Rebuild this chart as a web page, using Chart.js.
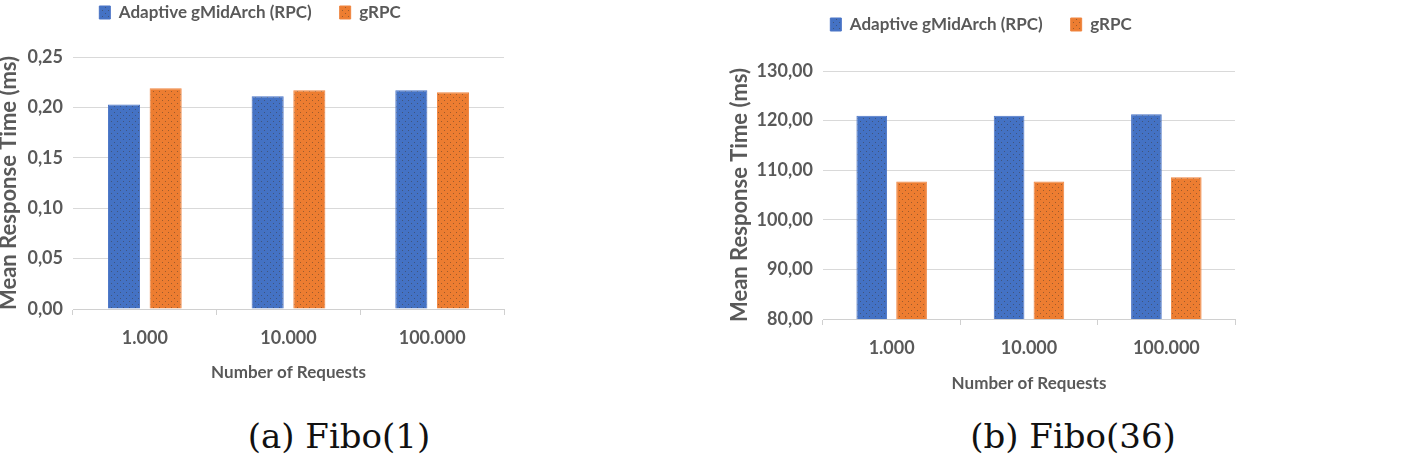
<!DOCTYPE html>
<html>
<head>
<meta charset="utf-8">
<script src="https://cdn.jsdelivr.net/npm/chart.js@4.4.1/dist/chart.umd.min.js"></script>
<style>
    html, body { margin: 0; padding: 0; background: #fff; }
    body { width: 1418px; height: 458px; position: relative; overflow: hidden; }
    .box { position: absolute; }
    .caption {
        position: absolute; top: 416px; font-family: "DejaVu Serif", "Liberation Serif", serif;
        font-size: 34px; color: #111; white-space: nowrap; transform: translateX(-50%);
    }
</style>
</head>
<body>
<div class="box" style="left:-4px;top:-24px;width:524px;height:411px"><canvas id="chartA"></canvas></div>
<div class="box" style="left:727px;top:-12px;width:691px;height:410px"><canvas id="chartB"></canvas></div>
<div class="caption" style="left:339px">(a) Fibo(1)</div>
<div class="caption" style="left:1073px">(b) Fibo(36)</div>
<script>
// Data
const categories = ['1.000', '10.000', '100.000'];
const seriesNames = ['Adaptive gMidArch (RPC)', 'gRPC'];
const fibo1Adaptive = [0.203, 0.211, 0.217];
const fibo1Grpc = [0.219, 0.217, 0.215];
const fibo36Adaptive = [121.0, 121.0, 121.3];
const fibo36Grpc = [107.7, 107.7, 108.6];
const fibo1Ticks = { min: 0, max: 0.25, step: 0.05 };
const fibo36Ticks = { min: 80, max: 130, step: 10 };

const textColor = '#595959';
const fontFamily = 'Lato, "Open Sans", sans-serif';

// dotted fill like the office chart texture
function dotPattern(color) {
    const c = document.createElement('canvas');
    c.width = 6; c.height = 6;
    const g = c.getContext('2d');
    g.fillStyle = color;
    g.fillRect(0, 0, 6, 6);
    g.fillStyle = 'rgba(60,50,40,0.45)';
    g.fillRect(1, 1, 1, 1);
    g.fillRect(4, 4, 1, 1);
    return g.createPattern(c, 'repeat');
}

// push the plot further below the legend
function legendGap(extra) {
    return {
        id: 'legendGap',
        beforeInit: function(chart) {
            const fit = chart.legend.fit;
            chart.legend.fit = function() {
                fit.call(this);
                this.height += extra;
            };
        }
    };
}

function makeChart(id, a, b, ticks, yWidth, xHeight, gap, padRight) {
    const ctx = document.getElementById(id).getContext('2d');
    return new Chart(ctx, {
        type: 'bar',
        data: {
            labels: categories,
            datasets: [
                { label: seriesNames[0], data: a, backgroundColor: dotPattern('#4472C4'), borderColor: '#4a74c6', borderWidth: 1,
                  categoryPercentage: 0.58, barPercentage: 0.77 },
                { label: seriesNames[1], data: b, backgroundColor: dotPattern('#ED7D31'), borderColor: '#ef8540', borderWidth: 1,
                  categoryPercentage: 0.58, barPercentage: 0.77 }
            ]
        },
        plugins: [legendGap(gap)],
        options: {
            responsive: true,
            maintainAspectRatio: false,
            animation: false,
            layout: { padding: { left: 0, right: padRight, top: 0, bottom: 0 } },
            plugins: {
                legend: {
                    position: 'top',
                    labels: {
                        color: textColor,
                        boxWidth: 11,
                        boxHeight: 13,
                        padding: 28,
                        font: { family: fontFamily, size: 17, weight: 'bold' }
                    }
                },
                tooltip: { enabled: false }
            },
            scales: {
                x: {
                    afterFit: function(scale) { scale.height = xHeight; },
                    grid: { offset: true, drawOnChartArea: false, color: '#d0d0d0', tickLength: 6 },
                    border: { color: '#d0d0d0' },
                    ticks: { color: textColor, padding: 12, font: { family: fontFamily, size: 18, weight: 'bold' } },
                    title: { display: true, text: 'Number of Requests', color: textColor, padding: { top: 4 },
                             font: { family: fontFamily, size: 17, weight: 'bold' } }
                },
                y: {
                    min: ticks.min,
                    max: ticks.max,
                    afterFit: function(scale) { scale.width = yWidth; },
                    grid: { color: '#d9d9d9', drawTicks: false },
                    border: { display: false },
                    ticks: {
                        stepSize: ticks.step,
                        padding: 10,
                        color: textColor,
                        font: { family: fontFamily, size: 18, weight: 'bold' },
                        callback: function(v) { return v.toFixed(2).replace('.', ','); }
                    },
                    title: { display: true, text: 'Mean Response Time (ms)', color: textColor, padding: 0,
                             font: { family: fontFamily, size: 22, weight: 'bold' } }
                }
            }
        }
    });
}

makeChart('chartA', fibo1Adaptive, fibo1Grpc, fibo1Ticks, 77, 78, 26, 16);
makeChart('chartB', fibo36Adaptive, fibo36Grpc, fibo36Ticks, 96, 79, 28, 183);
</script>
</body>
</html>
